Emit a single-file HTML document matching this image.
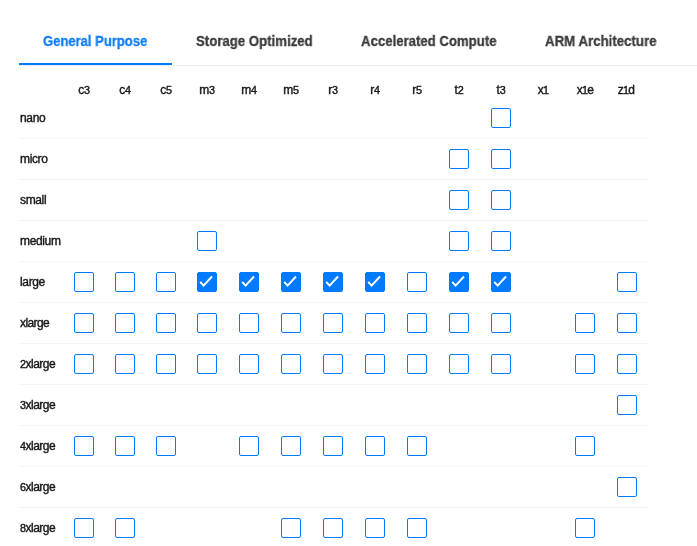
<!DOCTYPE html>
<html lang="en"><head><meta charset="utf-8"><title>Instance types</title>
<style>
html,body{margin:0;padding:0;background:#fff;}
body{width:697px;height:546px;position:relative;overflow:hidden;font-family:"Liberation Sans",sans-serif;color:#222;}
.tabs{position:absolute;left:19px;top:0;right:0;height:65px;border-bottom:1px solid #ededed;}
.tab{position:absolute;top:32px;height:18px;line-height:18px;font-size:14.4px;font-weight:bold;color:#3a3a3a;white-space:nowrap;transform-origin:0 50%;will-change:transform;-webkit-text-stroke:0.3px;}
.tab.on{color:#0f7df8;}
.ink{position:absolute;left:0;top:63px;width:153px;height:2px;background:#007bff;}
.h{will-change:transform;position:absolute;top:83px;width:40px;height:14px;line-height:14px;font-size:12px;text-align:center;color:#181818;letter-spacing:-0.3px;-webkit-text-stroke:0.4px;}
.d{font-size:10.8px;}
.r{position:absolute;left:19px;width:629px;height:40px;border-bottom:1px solid #f5f5f5;}
.l{will-change:transform;position:absolute;left:1px;top:13px;height:14px;line-height:14px;font-size:12px;letter-spacing:-0.35px;color:#181818;white-space:nowrap;-webkit-text-stroke:0.4px;}
.b{position:absolute;top:10px;width:20px;height:20px;box-sizing:border-box;border:1px solid #007bff;border-radius:2px;background:#fff;}
.b.c{background:#007bff;}
.b svg{position:absolute;left:-1px;top:-1px;width:20px;height:20px;display:block;}
</style></head><body>
<div class="tabs">
<div class="tab on" style="left:24px;transform:scaleX(.905)">General Purpose</div>
<div class="tab" style="left:177px;transform:scaleX(.918)">Storage Optimized</div>
<div class="tab" style="left:342px;transform:scaleX(.916)">Accelerated Compute</div>
<div class="tab" style="left:526px;transform:scaleX(.922)">ARM Architecture</div>
<div class="ink"></div>
</div>

<div class="h" style="left:64px">c<span class="d">3</span></div>
<div class="h" style="left:105px">c<span class="d">4</span></div>
<div class="h" style="left:146px">c<span class="d">5</span></div>
<div class="h" style="left:187px">m<span class="d">3</span></div>
<div class="h" style="left:229px">m<span class="d">4</span></div>
<div class="h" style="left:271px">m<span class="d">5</span></div>
<div class="h" style="left:313px">r<span class="d">3</span></div>
<div class="h" style="left:355px">r<span class="d">4</span></div>
<div class="h" style="left:397px">r<span class="d">5</span></div>
<div class="h" style="left:439px">t<span class="d">2</span></div>
<div class="h" style="left:481px">t<span class="d">3</span></div>
<div class="h" style="left:523px;letter-spacing:-0.7px">x<span class="d">1</span></div>
<div class="h" style="left:565px;letter-spacing:-0.7px">x<span class="d">1</span>e</div>
<div class="h" style="left:606px;letter-spacing:-0.7px">z<span class="d">1</span>d</div>

<div class="r" style="top:98px"><span class="l">nano</span>
<i class="b" style="left:472px"></i>
</div>
<div class="r" style="top:139px"><span class="l">micro</span>
<i class="b" style="left:430px"></i>
<i class="b" style="left:472px"></i>
</div>
<div class="r" style="top:180px"><span class="l">small</span>
<i class="b" style="left:430px"></i>
<i class="b" style="left:472px"></i>
</div>
<div class="r" style="top:221px"><span class="l">medium</span>
<i class="b" style="left:178px"></i>
<i class="b" style="left:430px"></i>
<i class="b" style="left:472px"></i>
</div>
<div class="r" style="top:262px"><span class="l">large</span>
<i class="b" style="left:55px"></i>
<i class="b" style="left:96px"></i>
<i class="b" style="left:137px"></i>
<i class="b c" style="left:178px"><svg viewBox="0 0 20 20"><polyline points="3.2,9.8 6.6,13.6 15,4.5" fill="none" stroke="#fff" stroke-width="2"/></svg></i>
<i class="b c" style="left:220px"><svg viewBox="0 0 20 20"><polyline points="3.2,9.8 6.6,13.6 15,4.5" fill="none" stroke="#fff" stroke-width="2"/></svg></i>
<i class="b c" style="left:262px"><svg viewBox="0 0 20 20"><polyline points="3.2,9.8 6.6,13.6 15,4.5" fill="none" stroke="#fff" stroke-width="2"/></svg></i>
<i class="b c" style="left:304px"><svg viewBox="0 0 20 20"><polyline points="3.2,9.8 6.6,13.6 15,4.5" fill="none" stroke="#fff" stroke-width="2"/></svg></i>
<i class="b c" style="left:346px"><svg viewBox="0 0 20 20"><polyline points="3.2,9.8 6.6,13.6 15,4.5" fill="none" stroke="#fff" stroke-width="2"/></svg></i>
<i class="b" style="left:388px"></i>
<i class="b c" style="left:430px"><svg viewBox="0 0 20 20"><polyline points="3.2,9.8 6.6,13.6 15,4.5" fill="none" stroke="#fff" stroke-width="2"/></svg></i>
<i class="b c" style="left:472px"><svg viewBox="0 0 20 20"><polyline points="3.2,9.8 6.6,13.6 15,4.5" fill="none" stroke="#fff" stroke-width="2"/></svg></i>
<i class="b" style="left:598px"></i>
</div>
<div class="r" style="top:303px"><span class="l" style="letter-spacing:-0.6px">xlarge</span>
<i class="b" style="left:55px"></i>
<i class="b" style="left:96px"></i>
<i class="b" style="left:137px"></i>
<i class="b" style="left:178px"></i>
<i class="b" style="left:220px"></i>
<i class="b" style="left:262px"></i>
<i class="b" style="left:304px"></i>
<i class="b" style="left:346px"></i>
<i class="b" style="left:388px"></i>
<i class="b" style="left:430px"></i>
<i class="b" style="left:472px"></i>
<i class="b" style="left:556px"></i>
<i class="b" style="left:598px"></i>
</div>
<div class="r" style="top:344px"><span class="l" style="letter-spacing:-0.5px"><span class="d">2</span>xlarge</span>
<i class="b" style="left:55px"></i>
<i class="b" style="left:96px"></i>
<i class="b" style="left:137px"></i>
<i class="b" style="left:178px"></i>
<i class="b" style="left:220px"></i>
<i class="b" style="left:262px"></i>
<i class="b" style="left:304px"></i>
<i class="b" style="left:346px"></i>
<i class="b" style="left:388px"></i>
<i class="b" style="left:430px"></i>
<i class="b" style="left:472px"></i>
<i class="b" style="left:556px"></i>
<i class="b" style="left:598px"></i>
</div>
<div class="r" style="top:385px"><span class="l" style="letter-spacing:-0.5px"><span class="d">3</span>xlarge</span>
<i class="b" style="left:598px"></i>
</div>
<div class="r" style="top:426px"><span class="l" style="letter-spacing:-0.5px"><span class="d">4</span>xlarge</span>
<i class="b" style="left:55px"></i>
<i class="b" style="left:96px"></i>
<i class="b" style="left:137px"></i>
<i class="b" style="left:220px"></i>
<i class="b" style="left:262px"></i>
<i class="b" style="left:304px"></i>
<i class="b" style="left:346px"></i>
<i class="b" style="left:388px"></i>
<i class="b" style="left:556px"></i>
</div>
<div class="r" style="top:467px"><span class="l" style="letter-spacing:-0.5px"><span class="d">6</span>xlarge</span>
<i class="b" style="left:598px"></i>
</div>
<div class="r" style="top:508px"><span class="l" style="letter-spacing:-0.5px"><span class="d">8</span>xlarge</span>
<i class="b" style="left:55px"></i>
<i class="b" style="left:96px"></i>
<i class="b" style="left:262px"></i>
<i class="b" style="left:304px"></i>
<i class="b" style="left:346px"></i>
<i class="b" style="left:388px"></i>
<i class="b" style="left:556px"></i>
</div>
</body></html>
